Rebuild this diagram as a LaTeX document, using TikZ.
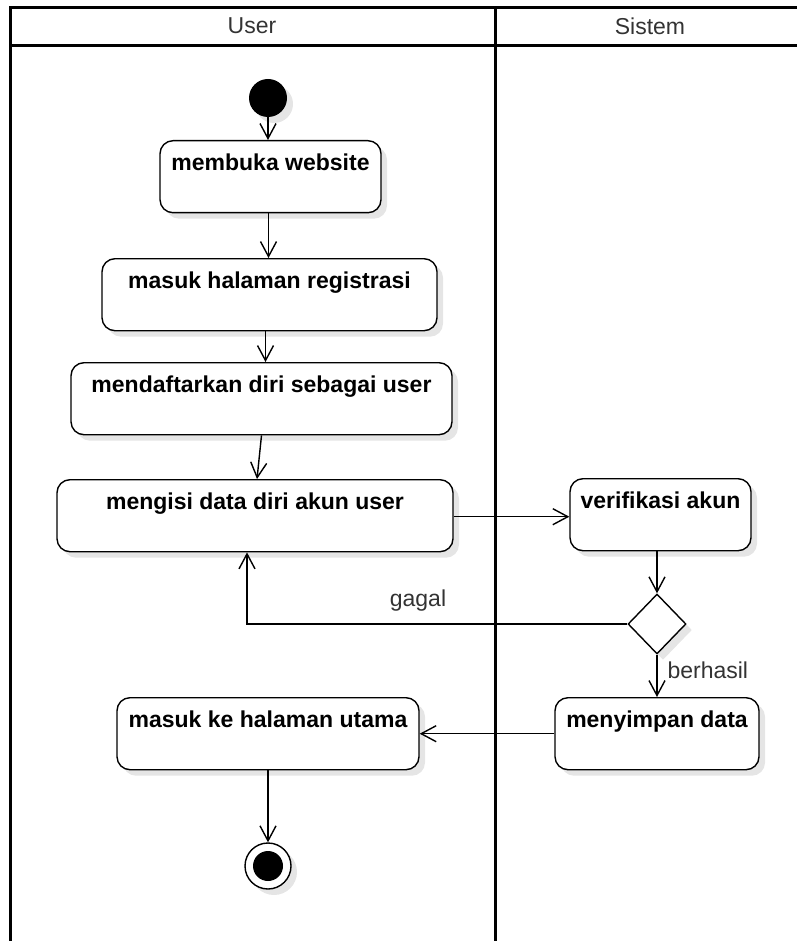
\documentclass[tikz,border=0pt]{standalone}
\usepackage{fontspec}
\setmainfont{Liberation Sans}
\usetikzlibrary{arrows.meta,shadows,shapes.geometric}
\begin{document}
\begin{tikzpicture}[x=1pt,y=-1pt,
  lane/.style={line width=3pt},
  shade/.style={drop shadow={shadow xshift=6pt,shadow yshift=-6pt,opacity=0.10,fill=black}},
  act/.style={draw,line width=1.4pt,rounded corners=13pt,fill=white,shade,anchor=north,
    font=\fontsize{23}{27}\selectfont\bfseries,inner xsep=4pt,inner ysep=8pt,
    text height=22pt,text depth=34pt},
  flow/.style={line width=1.4pt,-{Straight Barb[length=15pt,width=16pt,line width=1.4pt]}},
  guard/.style={font=\fontsize{23}{27}\selectfont,text=black!80}
]
\useasboundingbox (0,0) rectangle (796,941);

% swimlane pool
\draw[lane] (10,941) -- (10,8) -- (800,8);
\draw[lane] (10,46) -- (800,46);
\draw[lane] (495,8) -- (495,941);
\node[guard] (laneUser) at (252,26) {User};
\node[guard] (laneSys) at (650,26) {Sistem};

% activities
\node[circle,fill=black,minimum size=38pt,inner sep=0pt,shade] (start) at (268,98) {};
\node[act,minimum width=221pt] (b1) at (270.5,140) {membuka website};
\node[act,minimum width=335pt] (b2) at (269.5,258) {masuk halaman registrasi};
\node[act,minimum width=381pt] (b3) at (261.5,362) {mendaftarkan diri sebagai user};
\node[act,minimum width=396pt] (b4) at (255,479) {mengisi data diri akun user};
\node[act,minimum width=181pt] (ver) at (660.5,478) {verifikasi akun};
\node[draw,line width=1.4pt,fill=white,shade,minimum width=58pt,minimum height=60pt,
  aspect=1,inner sep=0pt,diamond] (dec) at (657,624) {};
\node[act,minimum width=204pt] (simpan) at (657,697) {menyimpan data};
\node[act,minimum width=302pt] (utama) at (268,697) {masuk ke halaman utama};
\node[circle,draw,line width=1.4pt,fill=white,minimum size=46pt,inner sep=0pt,shade] (end) at (268,866) {};
\node[circle,fill=black,minimum size=30pt,inner sep=0pt] (endDot) at (end) {};

% transitions
\draw[flow] (start) -- (b1.north -| start);
\draw[flow] ([xshift=-2pt]b1.south) -- ([xshift=-1pt]b2.north);
\draw[flow] ([xshift=-4pt]b2.south) -- ([xshift=4pt]b3.north);
\draw[flow] (b3.south) -- ([xshift=2pt]b4.north);
\draw[flow] ([yshift=-1pt]b4.east) -- ([yshift=-1pt]b4.east -| ver.west);
\draw[flow] (ver.south -| dec) -- (dec.north);
\draw[flow] (dec.west) -| ([xshift=-8pt]b4.south);
\node[guard] (gagal) at (418,601) {gagal};
\draw[flow] (dec.south) -- (simpan.north -| dec.south);
\node[guard,anchor=west] (berhasil) at (664,670) {berhasil};
\draw[flow] (simpan.west |- utama.east) -- (utama.east);
\draw[flow] (utama.south) -- (end.north);
\end{tikzpicture}
\end{document}
